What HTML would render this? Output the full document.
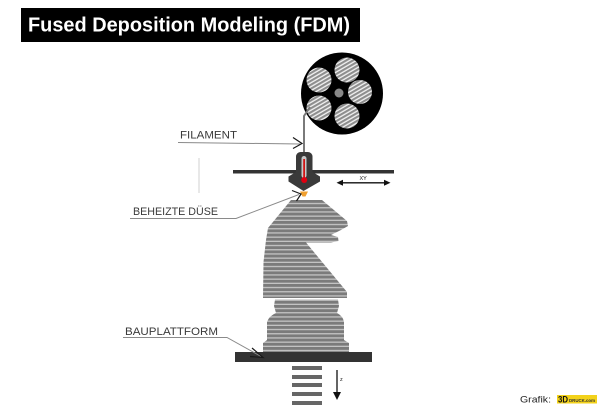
<!DOCTYPE html>
<html><head><meta charset="utf-8"><style>
html,body{margin:0;padding:0;background:#fff;}
svg{display:block;}
</style></head><body>
<svg width="600" height="408" viewBox="0 0 600 408" xmlns="http://www.w3.org/2000/svg">
<defs>
<pattern id="kst" patternUnits="userSpaceOnUse" x="0" y="200" width="10" height="4.2">
<rect x="0" y="0" width="10" height="4.2" fill="#7b7b7b"/>
<rect x="0" y="2.9" width="10" height="1.3" fill="#c4c4c4"/>
</pattern>
<pattern id="hst" patternUnits="userSpaceOnUse" width="4" height="3.4" patternTransform="rotate(-30)">
<rect width="4" height="3.4" fill="#8e8e8e"/>
<rect y="2.1" width="4" height="1.3" fill="#f2f2f2"/>
</pattern>
</defs>

<!-- Title -->
<rect x="21" y="8" width="339" height="34" fill="#000"/>
<text x="28" y="31.5" font-family="Liberation Sans, sans-serif" font-weight="bold" font-size="20" fill="#fff" textLength="322" lengthAdjust="spacingAndGlyphs">Fused Deposition Modeling (FDM)</text>

<!-- Spool -->
<circle cx="342" cy="93.5" r="41" fill="#000"/>
<circle cx="347" cy="70" r="12.5" fill="url(#hst)"/>
<circle cx="319" cy="80" r="12.5" fill="url(#hst)"/>
<circle cx="360" cy="92" r="12" fill="url(#hst)"/>
<circle cx="319" cy="108" r="12.5" fill="url(#hst)"/>
<circle cx="347" cy="116" r="12.5" fill="url(#hst)"/>
<circle cx="339" cy="93" r="4.5" fill="#888"/>

<!-- Filament -->
<polyline points="310,107 304,116 304,153" fill="none" stroke="#7a7a7a" stroke-width="2"/>

<!-- Gantry bar -->
<rect x="233" y="170" width="161" height="3.5" fill="#333"/>

<!-- Extruder -->
<rect x="296" y="152" width="16.5" height="30" rx="4.5" fill="#3a3a3a"/>
<polygon points="288.5,176.5 296,172 312.5,172 320,176.5 320,181.5 303.5,191 288.5,181.5" fill="#3a3a3a"/>
<rect x="301.5" y="156" width="5" height="22" rx="2.5" fill="#c8c8c8"/>
<rect x="303.3" y="159" width="1.6" height="20" fill="#d40000"/>
<circle cx="304.2" cy="180" r="3" fill="#e00010"/>
<polygon points="300,191.5 308,191.5 305.5,196.5 302.5,196.5" fill="#f0a030"/>

<!-- XY arrow -->
<line x1="340" y1="182.8" x2="387" y2="182.8" stroke="#111" stroke-width="1.3"/>
<polygon points="336.5,182.8 343,179.8 343,185.8" fill="#111"/>
<polygon points="390.5,182.8 384,179.8 384,185.8" fill="#111"/>
<text x="359.5" y="180" font-family="Liberation Sans, sans-serif" font-size="5.5" fill="#222">XY</text>

<!-- Knight -->
<path d="M291,200 L322,200 L347,221 L348,226 L341,230 L331,235 L338,237 L338.5,241 L331,242.5 L306,242.5 L347,292 L347,298 L263,298 L263.5,262 L266,240 L268,228 Z" fill="url(#kst)"/>
<path d="M275,299.5 L338,299.5 L339,306 L337,313 L276,313 L274,306 Z" fill="url(#kst)"/>
<path d="M276,313 L337,313 Q343,316 344,322 L344,340 L349,343 L349,352 L263,352 L263,343 L267,340 L267,322 Q269,316 276,313 Z" fill="url(#kst)"/>

<!-- Platform -->
<rect x="235" y="352" width="137" height="10" fill="#333"/>

<!-- Below stripes -->
<rect x="292" y="366" width="30" height="4" fill="#666"/>
<rect x="292" y="375" width="30" height="4" fill="#666"/>
<rect x="292" y="383" width="30" height="4" fill="#666"/>
<rect x="292" y="392" width="30" height="4" fill="#666"/>
<rect x="292" y="401" width="30" height="4" fill="#666"/>

<!-- Z arrow -->
<line x1="337" y1="370" x2="337" y2="394" stroke="#111" stroke-width="1.3"/>
<polygon points="333,392 341,392 337,400" fill="#111"/>
<text x="340" y="381" font-family="Liberation Sans, sans-serif" font-size="5.5" fill="#222">z</text>

<!-- Labels -->
<text x="180" y="138.5" font-family="Liberation Sans, sans-serif" font-size="11" fill="#3a3a3a" textLength="57" lengthAdjust="spacingAndGlyphs">FILAMENT</text>
<polyline points="178,142.5 300,144" fill="none" stroke="#8a8a8a" stroke-width="1"/>
<polyline points="293,137.5 302,143.5 293,148.5" fill="none" stroke="#1a1a1a" stroke-width="1.2"/>

<line x1="199" y1="158" x2="199" y2="193" stroke="#d0d0d0" stroke-width="1"/>

<text x="133" y="215" font-family="Liberation Sans, sans-serif" font-size="11" fill="#3a3a3a" textLength="85" lengthAdjust="spacingAndGlyphs">BEHEIZTE DÜSE</text>
<polyline points="130,218.5 236,218.5 299,194.5" fill="none" stroke="#8a8a8a" stroke-width="1"/>
<polyline points="292,190.5 301,194 296.5,201" fill="none" stroke="#1a1a1a" stroke-width="1.2"/>

<text x="125" y="335" font-family="Liberation Sans, sans-serif" font-size="11" fill="#3a3a3a" textLength="93" lengthAdjust="spacingAndGlyphs">BAUPLATTFORM</text>
<polyline points="123,337.5 227,337.5 262,357" fill="none" stroke="#8a8a8a" stroke-width="1"/>
<polyline points="252,348 263,357.5 250,356.5" fill="none" stroke="#1a1a1a" stroke-width="1.2"/>

<!-- Credit -->
<text x="520" y="402.7" font-family="Liberation Sans, sans-serif" font-size="9.5" fill="#222" textLength="31" lengthAdjust="spacingAndGlyphs">Grafik:</text>
<rect x="557" y="395" width="40" height="8.5" fill="#f3d21a"/>
<text x="558" y="402.7" font-family="Liberation Sans, sans-serif" font-weight="bold" font-size="9" fill="#111" textLength="10" lengthAdjust="spacingAndGlyphs">3D</text>
<text x="569" y="402" font-family="Liberation Sans, sans-serif" font-weight="bold" font-size="4.5" fill="#333" textLength="26" lengthAdjust="spacingAndGlyphs">DRUCK.com</text>
</svg>
</body></html>
